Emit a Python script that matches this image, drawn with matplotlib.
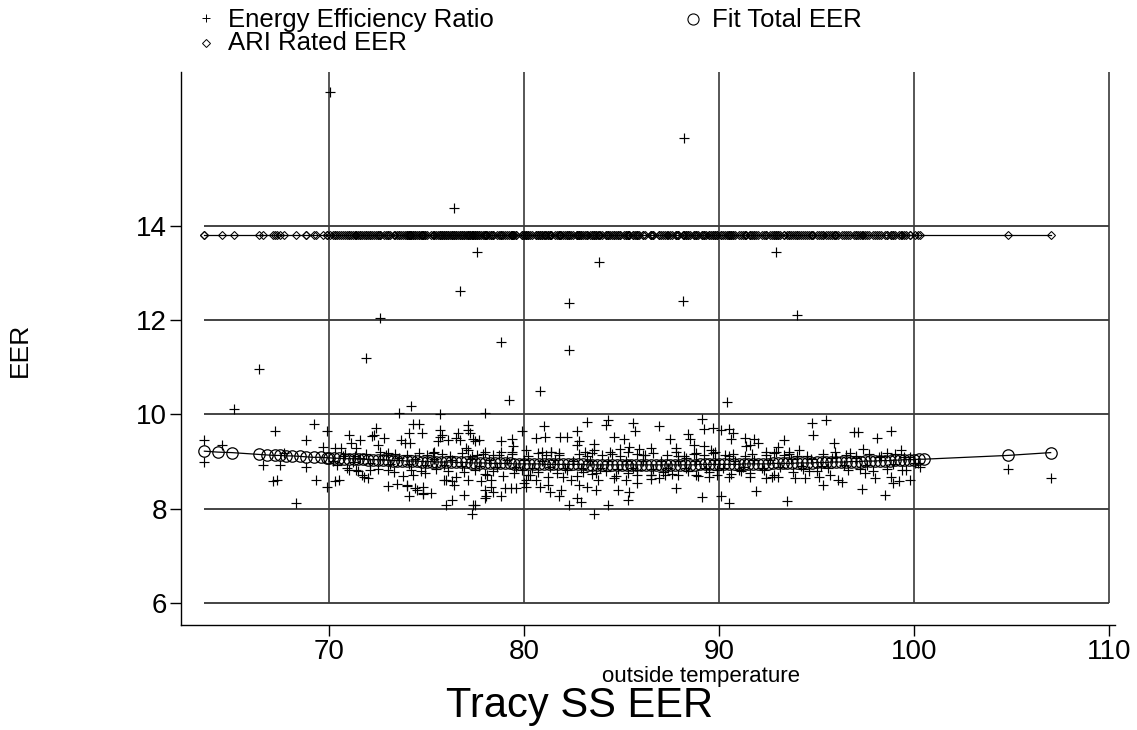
import numpy as np
import matplotlib
matplotlib.use("Agg")
import matplotlib.pyplot as plt
from matplotlib.lines import Line2D

plt.rcParams['font.family'] = ['Liberation Sans', 'DejaVu Sans']

# ---------------- data ----------------
x_ticks = [70, 80, 90, 100, 110]
y_ticks = [6, 8, 10, 12, 14]
ari_rated_eer = 13.8

temp_outliers = [70.05, 88.2, 76.4, 77.6, 83.85, 92.9, 76.7, 82.3, 88.15, 72.6, 94.0, 71.9,
                 66.4, 78.8, 82.3, 80.8, 79.2, 65.1, 90.4, 78.0, 74.2, 73.6, 75.7]
eer_outliers = [16.85, 15.87, 14.39, 13.45, 13.24, 13.45, 12.62, 12.37, 12.41, 12.05, 12.11, 11.2,
                10.97, 11.54, 11.37, 10.5, 10.31, 10.12, 10.27, 10.03, 10.18, 10.03, 10.0]

temp_low = [63.6, 63.6, 64.5, 69.2, 69.9, 67.2, 68.8, 71.0, 71.1, 71.6, 69.7, 70.3, 70.6, 71.4,
            67.7, 66.6, 67.5, 68.8, 70.4, 71.0, 71.4, 71.7, 67.1, 67.3, 69.3, 69.9, 70.3, 70.5, 68.3]
eer_low = [9.46, 9.00, 9.35, 9.79, 9.64, 9.64, 9.45, 9.57, 9.39, 9.45, 9.31, 9.28, 9.28, 9.28,
           9.18, 8.93, 8.93, 8.89, 8.93, 8.82, 8.82, 8.72, 8.58, 8.60, 8.61, 8.46, 8.58, 8.61, 8.12]

temp_70s = [74.3, 74.6, 74.75, 74.1, 72.4, 72.2, 72.8, 73.7, 73.9, 75.7, 75.8, 76.1, 76.5, 76.6,
            77.1, 77.1, 77.4, 77.0, 78.0, 72.6, 73.0, 75.3, 72.1, 71.8, 72.0, 73.0, 73.5, 74.0,
            74.4, 74.1, 74.5, 74.8, 75.2, 76.0, 76.3, 76.3, 76.4, 76.9, 77.4, 77.3, 78.0, 78.0,
            76.0, 75.9, 79.9, 72.3, 72.5, 74.15, 75.7, 75.6, 75.4, 76.7, 77.2, 77.5, 77.7, 77.1,
            77.3, 78.8, 79.4, 79.45, 79.4, 78.7, 80.1, 73.0, 73.8, 74.3, 74.9, 76.5, 77.1, 77.8,
            78.1, 78.3, 78.3, 79.0, 79.3, 79.6, 79.97, 80.1, 74.0, 74.8, 74.8, 77.5, 78.4, 78.8,
            78.05]
eer_70s = [9.79, 9.79, 9.60, 9.60, 9.71, 9.55, 9.50, 9.45, 9.39, 9.67, 9.57, 9.46, 9.50, 9.60,
           9.78, 9.67, 9.48, 9.28, 9.21, 9.21, 9.19, 9.18, 8.82, 8.68, 8.65, 8.48, 8.53, 8.48,
           8.44, 8.26, 8.40, 8.33, 8.33, 8.08, 8.19, 8.58, 8.51, 8.29, 8.08, 7.89, 8.40, 8.22,
           8.61, 8.61, 9.64, 9.57, 9.35, 9.39, 9.53, 9.43, 9.21, 9.45, 9.60, 9.43, 9.45, 9.25,
           9.12, 9.43, 9.48, 9.32, 9.21, 9.14, 9.25, 8.82, 8.70, 8.72, 8.75, 8.68, 8.61, 8.58,
           8.72, 8.61, 8.47, 8.44, 8.44, 8.44, 8.54, 8.61, 8.51, 8.47, 8.31, 8.08, 8.36, 8.26,
           8.26]

temp_80s = [83.2, 84.3, 84.2, 85.6, 85.7, 86.9, 88.4, 88.5, 87.5, 81.0, 81.05, 80.6, 81.85, 82.2,
            82.7, 82.8, 82.7, 84.6, 85.1, 83.6, 83.6, 83.1, 84.4, 84.9, 85.35, 85.9, 86.1, 86.5,
            87.8, 87.9, 88.3, 80.9, 81.4, 81.8, 80.2, 80.6, 80.8, 81.2, 81.3, 81.8, 81.9, 82.0,
            82.4, 82.8, 83.2, 82.7, 82.9, 82.3, 83.6, 84.3, 83.7, 83.8, 83.7, 84.6, 84.8, 85.2,
            85.8, 85.8, 85.35, 85.3, 86.5, 86.5, 86.9, 87.2, 87.9, 87.8, 80.1]
eer_80s = [9.85, 9.89, 9.78, 9.81, 9.64, 9.76, 9.59, 9.48, 9.48, 9.76, 9.53, 9.50, 9.53, 9.53,
           9.64, 9.43, 9.35, 9.53, 9.48, 9.38, 9.25, 9.21, 9.21, 9.26, 9.31, 9.26, 9.14, 9.28,
           9.28, 9.12, 9.07, 9.21, 9.21, 9.18, 8.72, 8.61, 8.47, 8.51, 8.36, 8.26, 8.40, 8.68,
           8.61, 8.51, 8.47, 8.22, 8.15, 8.08, 7.89, 8.08, 8.75, 8.61, 8.40, 8.65, 8.40, 8.61,
           8.72, 8.54, 8.36, 8.19, 8.72, 8.63, 8.65, 8.72, 8.72, 8.44, 8.47]

temp_90s = [89.1, 89.2, 89.7, 90.1, 90.5, 90.7, 90.6, 94.75, 95.5, 94.8, 96.9, 91.3, 91.8, 91.6,
            92.0, 91.4, 93.3, 88.7, 89.2, 89.6, 89.8, 88.8, 90.5, 92.4, 92.9, 93.0, 93.6, 94.1,
            95.9, 95.95, 96.7, 88.8, 89.5, 89.9, 90.5, 91.0, 91.6, 92.4, 92.7, 93.0, 93.9, 94.4,
            94.6, 95.1, 95.3, 95.7, 96.1, 96.3, 91.9, 89.1, 90.1, 90.5, 93.5]
eer_90s = [9.90, 9.69, 9.71, 9.66, 9.69, 9.60, 9.48, 9.81, 9.89, 9.57, 9.62, 9.50, 9.48, 9.35,
           9.40, 9.33, 9.46, 9.35, 9.33, 9.25, 9.21, 9.18, 9.12, 9.21, 9.21, 9.31, 9.21, 9.24,
           9.40, 9.21, 9.18, 8.72, 8.67, 8.72, 8.67, 8.82, 8.67, 8.65, 8.67, 8.67, 8.65, 8.65,
           8.79, 8.67, 8.51, 8.72, 8.61, 8.56, 8.38, 8.24, 8.27, 8.13, 8.17]

temp_high = [98.1, 98.8, 97.4, 98.6, 99.3, 97.5, 98.0, 98.8, 98.9, 99.2, 99.8, 99.6, 100.05,
             97.3, 98.5, 104.8, 107.0, 97.1]
eer_high = [9.50, 9.64, 9.26, 9.19, 9.24, 8.75, 8.65, 8.67, 8.54, 8.58, 8.61, 8.82, 8.97,
            8.41, 8.29, 8.84, 8.65, 9.62]

temp_band_upper = [70.8, 71.3, 71.9, 72.9, 73.4, 74.0, 74.6, 75.0, 75.8, 76.2, 76.8, 77.6,
                   77.9, 78.4, 78.8, 79.4, 80.2, 80.7, 81.1, 81.4, 81.8, 82.8, 83.2, 83.5,
                   84.0, 84.5, 84.9, 85.3, 85.8, 86.2, 86.6, 87.3, 87.8, 88.2, 88.7, 89.2,
                   89.7, 90.3, 90.7, 91.3, 91.7, 92.4, 92.8, 93.3, 93.6, 94.0, 94.5, 95.3,
                   96.0, 96.5, 97.0, 97.7, 98.3, 99.0, 99.8]
eer_band_upper = [9.15, 9.12, 9.17, 9.13, 9.16, 9.14, 9.19, 9.13, 9.16, 9.12, 9.18, 9.14,
                  9.17, 9.13, 9.20, 9.15, 9.12, 9.18, 9.14, 9.20, 9.13, 9.16, 9.12, 9.19,
                  9.14, 9.17, 9.12, 9.20, 9.15, 9.13, 9.18, 9.14, 9.21, 9.12, 9.16, 9.13,
                  9.19, 9.14, 9.17, 9.12, 9.15, 9.13, 9.18, 9.14, 9.16, 9.12, 9.12, 9.15,
                  9.10, 9.14, 9.12, 9.16, 9.12, 9.15, 9.10]

temp_band_lower = [70.9, 71.5, 72.5, 73.3, 74.2, 74.7, 75.5, 76.1, 76.9, 77.5,
                   78.0, 78.4, 78.9, 79.5, 79.9, 80.3, 80.7, 81.2, 81.7, 82.2, 82.7, 83.0,
                   83.5, 84.2, 84.7, 85.3, 85.8, 86.5, 87.1, 87.6, 88.4, 88.9, 89.5, 89.9,
                   90.6, 91.1, 91.6, 92.3, 92.8, 93.8, 94.3, 95.0, 95.6, 96.6, 97.2, 97.9,
                   98.6, 99.4, 100.3]
eer_band_lower = [8.86, 8.80, 8.84, 8.78, 8.83, 8.79, 8.85, 8.80, 8.77, 8.82,
                  8.74, 8.80, 8.70, 8.76, 8.82, 8.72, 8.78, 8.68, 8.75, 8.81, 8.70, 8.77,
                  8.73, 8.80, 8.69, 8.76, 8.82, 8.71, 8.78, 8.74, 8.80, 8.70, 8.77, 8.83,
                  8.73, 8.79, 8.75, 8.81, 8.72, 8.78, 8.84, 8.80, 8.86, 8.82, 8.85, 8.80,
                  8.84, 8.82, 8.88]

temp_band_core = [70.2, 70.7, 71.2, 71.6, 72.1, 72.6, 73.1, 73.6, 74.1, 74.4,
                  74.9, 75.4, 75.9, 76.3, 76.8, 77.2, 77.7, 78.2, 78.6, 79.1,
                  79.6, 80.0, 80.4, 80.9, 81.3, 81.6, 82.1, 82.5, 82.9, 83.4,
                  83.9, 84.3, 84.8, 85.2, 85.6, 86.1, 86.6, 87.0, 87.4, 87.9,
                  88.3, 88.8, 89.3, 89.8, 90.2, 90.8, 91.2, 91.8, 92.2, 92.6,
                  93.1, 93.7, 94.2, 94.7, 95.2, 95.8, 96.4, 97.0, 97.6, 98.2,
                  98.9, 99.5, 100.2]
eer_band_core = [9.01, 9.12, 8.98, 9.08, 8.96, 9.06, 8.95, 9.07, 8.94, 9.05,
                 8.93, 9.06, 8.92, 9.04, 8.91, 9.05, 8.90, 9.03, 8.89, 9.04,
                 8.88, 9.03, 8.87, 9.02, 8.88, 9.03, 8.86, 9.02, 8.87, 9.01,
                 8.86, 9.02, 8.85, 9.01, 8.86, 9.02, 8.85, 9.01, 8.86, 9.02,
                 8.87, 9.01, 8.86, 9.03, 8.87, 9.02, 8.88, 9.03, 8.87, 9.04,
                 8.89, 9.05, 8.90, 9.06, 8.91, 9.07, 8.92, 9.08, 8.93, 9.09,
                 8.94, 9.10, 8.96]

fit_temp = [63.6, 64.3, 65.0, 66.4, 66.8, 67.2, 67.5, 67.8, 68.1, 68.5, 68.8, 69.2, 69.6, 69.9,
            70.0, 70.25, 70.5, 70.75, 71.0, 71.25, 71.5, 71.75, 72.0, 72.25, 72.5, 72.75,
            73.0, 73.25, 73.5, 73.75, 74.0, 74.25, 74.5, 74.75, 75.0, 75.25, 75.5, 75.75,
            76.0, 76.25, 76.5, 76.75, 77.0, 77.25, 77.5, 77.75, 78.0, 78.25, 78.5, 78.75,
            79.0, 79.25, 79.5, 79.75, 80.0, 80.25, 80.5, 80.75, 81.0, 81.25, 81.5, 81.75,
            82.0, 82.25, 82.5, 82.75, 83.0, 83.25, 83.5, 83.75, 84.0, 84.25, 84.5, 84.75,
            85.0, 85.25, 85.5, 85.75, 86.0, 86.25, 86.5, 86.75, 87.0, 87.25, 87.5, 87.75,
            88.0, 88.25, 88.5, 88.75, 89.0, 89.25, 89.5, 89.75, 90.0, 90.25, 90.5, 90.75,
            91.0, 91.25, 91.5, 91.75, 92.0, 92.25, 92.5, 92.75, 93.0, 93.25, 93.5, 93.75,
            94.0, 94.25, 94.5, 94.75, 95.0, 95.25, 95.5, 95.75, 96.0, 96.25, 96.5, 96.75,
            97.0, 97.25, 97.5, 97.75, 98.0, 98.25, 98.5, 98.75, 99.0, 99.25, 99.5, 99.75,
            100.0, 100.25, 100.5, 104.8, 107.0]
fit_eer = [9.22, 9.20, 9.19, 9.15, 9.14, 9.13, 9.13, 9.12, 9.12, 9.11, 9.10, 9.09, 9.09, 9.08,
           9.08, 9.07, 9.07, 9.06, 9.06, 9.06, 9.05, 9.05, 9.04, 9.04, 9.04, 9.03,
           9.03, 9.02, 9.02, 9.02, 9.01, 9.01, 9.01, 9.00, 9.00, 9.00, 8.99, 8.99,
           8.99, 8.99, 8.98, 8.98, 8.98, 8.97, 8.97, 8.97, 8.97, 8.96, 8.96, 8.96,
           8.96, 8.96, 8.95, 8.95, 8.95, 8.95, 8.95, 8.95, 8.94, 8.94, 8.94, 8.94,
           8.94, 8.94, 8.94, 8.94, 8.94, 8.93, 8.93, 8.93, 8.93, 8.93, 8.93, 8.93,
           8.93, 8.93, 8.93, 8.93, 8.93, 8.93, 8.93, 8.93, 8.93, 8.93, 8.93, 8.93,
           8.93, 8.93, 8.93, 8.93, 8.94, 8.94, 8.94, 8.94, 8.94, 8.94, 8.94, 8.94,
           8.94, 8.95, 8.95, 8.95, 8.95, 8.95, 8.95, 8.96, 8.96, 8.96, 8.96, 8.96,
           8.97, 8.97, 8.97, 8.97, 8.98, 8.98, 8.98, 8.99, 8.99, 8.99, 8.99, 9.00,
           9.00, 9.00, 9.01, 9.01, 9.01, 9.02, 9.02, 9.02, 9.03, 9.03, 9.04, 9.04,
           9.04, 9.05, 9.05, 9.13, 9.19]

temperature = (temp_outliers + temp_low + temp_70s + temp_80s + temp_90s + temp_high
               + temp_band_upper + temp_band_lower + temp_band_core)
eer = (eer_outliers + eer_low + eer_70s + eer_80s + eer_90s + eer_high
       + eer_band_upper + eer_band_lower + eer_band_core)

# ---------------- figure ----------------
W, H = 1137, 730
fig = plt.figure(figsize=(W / 100, H / 100), dpi=100)
ax = fig.add_axes([181 / W, 1 - 625 / H, (1115 - 181) / W, (625 - 72) / H])
ax.set_xlim(62.4, 110.3)
ax.set_ylim(5.53, 17.27)

ax.hlines(y_ticks, min(temperature), max(x_ticks), color='#111111', linewidth=1.1, zorder=1)
ax.vlines(x_ticks, min(y_ticks), ax.get_ylim()[1], color='#3a3a3a', linewidth=1.2, zorder=1)

temp_sorted = np.sort(np.array(temperature))
ari_vals = np.full(temp_sorted.shape, ari_rated_eer)
ax.plot(temp_sorted, ari_vals, color='black', linewidth=0.9, marker='D', markersize=4.2,
        markerfacecolor='none', markeredgecolor='black', markeredgewidth=0.75, zorder=3)

ax.plot(fit_temp, fit_eer, color='black', linewidth=0.9, marker='o', markersize=8.2,
        markerfacecolor='none', markeredgecolor='black', markeredgewidth=0.9, zorder=3)

ax.plot(temperature, eer, linestyle='none', marker='+', markersize=7.5,
        markeredgewidth=0.85, color='black', zorder=4)

for s in ['top', 'right']:
    ax.spines[s].set_visible(False)
for s in ['left', 'bottom']:
    ax.spines[s].set_linewidth(1.0)

ax.set_xticks(x_ticks)
ax.set_yticks(y_ticks)
ax.set_xticklabels([str(v) for v in x_ticks])
ax.set_yticklabels([str(v) for v in y_ticks])
ax.tick_params(axis='both', direction='out', length=8, width=1.0, pad=2, labelsize=20)

# axis titles and caption
fig.text(701 / W, 1 - 682 / H, 'outside temperature', ha='center', va='baseline', fontsize=16)
fig.text(580 / W, 1 - 717 / H, 'Tracy SS EER', ha='center', va='baseline', fontsize=30)
fig.text(20 / W, 1 - 350 / H, 'EER', ha='center', va='center', rotation=90, fontsize=19)

# legend (drawn manually to match layout)
leg_fs = 18.5
fig.add_artist(Line2D([206 / W], [1 - 18 / H], marker='+', markersize=6, markeredgewidth=0.7,
                      color='black', transform=fig.transFigure))
fig.text(228 / W, 1 - 27 / H, 'Energy Efficiency Ratio', ha='left', va='baseline', fontsize=leg_fs)
fig.add_artist(Line2D([206 / W], [1 - 43 / H], marker='D', markersize=4, markeredgewidth=0.7,
                      markerfacecolor='none', color='black', transform=fig.transFigure))
fig.text(228 / W, 1 - 50 / H, 'ARI Rated EER', ha='left', va='baseline', fontsize=leg_fs)
fig.add_artist(Line2D([693 / W], [1 - 19 / H], marker='o', markersize=8, markeredgewidth=0.8,
                      markerfacecolor='none', color='black', transform=fig.transFigure))
fig.text(712 / W, 1 - 27 / H, 'Fit Total EER', ha='left', va='baseline', fontsize=leg_fs)

fig.savefig('out.png', dpi=100)
